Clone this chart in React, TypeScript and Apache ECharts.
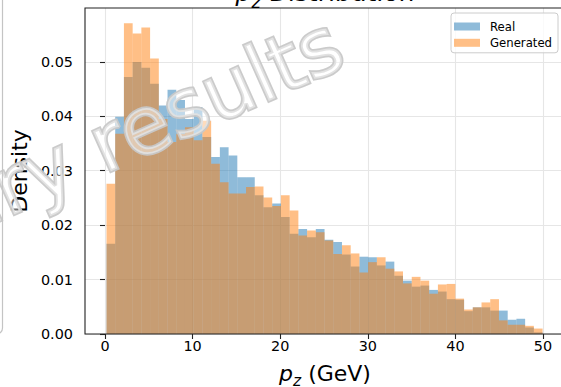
import React, { useEffect, useRef } from 'react';
import * as echarts from 'echarts';

// Histogram bins (GeV): 50 equal-width bins
const binStart = 0.17;
const binWidth = 0.9956;

const realDensity = [
  0.0166, 0.0399, 0.0472, 0.0500, 0.0489, 0.0460, 0.0420, 0.0449, 0.0430, 0.0395,
  0.0417, 0.0362, 0.0325, 0.0343, 0.0328, 0.0288, 0.0288, 0.0255, 0.0233, 0.0240,
  0.0215, 0.0184, 0.0193, 0.0178, 0.0193, 0.0173, 0.0169, 0.0146, 0.0124, 0.0142,
  0.0141, 0.0126, 0.0133, 0.0107, 0.0098, 0.0087, 0.0089, 0.0081, 0.0078, 0.0064,
  0.0063, 0.0042, 0.0049, 0.0049, 0.0043, 0.0043, 0.0026, 0.0028, 0.0012, 0.0003,
];

const generatedDensity = [
  0.0276, 0.0368, 0.0571, 0.0552, 0.0563, 0.0506, 0.0395, 0.0353, 0.0368, 0.0380,
  0.0356, 0.0392, 0.0313, 0.0279, 0.0258, 0.0258, 0.0270, 0.0271, 0.0251, 0.0235,
  0.0255, 0.0227, 0.0181, 0.0190, 0.0187, 0.0172, 0.0147, 0.0163, 0.0148, 0.0113,
  0.0132, 0.0141, 0.0120, 0.0115, 0.0093, 0.0105, 0.0098, 0.0074, 0.0091, 0.0092,
  0.0065, 0.0045, 0.0049, 0.0058, 0.0064, 0.0025, 0.0017, 0.0017, 0.0015, 0.0010,
];

const xTicks = [0, 10, 20, 30, 40, 50];
const yTicks = [0, 0.01, 0.02, 0.03, 0.04, 0.05];
const seriesNames = ['Real', 'Generated'];

const FONT = 'DejaVu Sans';
const BLUE = 'rgba(31,119,180,0.5)';
const ORANGE = 'rgba(255,127,14,0.5)';

export default function App() {
  const ref = useRef<HTMLDivElement>(null);

  useEffect(() => {
    if (!ref.current) return;
    const chart = echarts.init(ref.current, null, { renderer: 'svg' });

    const toData = (vals: number[]) =>
      vals.map((v, i) => [binStart + i * binWidth, binStart + (i + 1) * binWidth, v]);

    const mkSeries = (name: string, vals: number[], color: string) => ({
      type: 'custom',
      name,
      data: toData(vals),
      encode: { x: [0, 1], y: 2 },
      itemStyle: { color },
      renderItem: (params: any, api: any) => {
        const a = api.coord([api.value(0), api.value(2)]);
        const b = api.coord([api.value(1), 0]);
        return {
          type: 'rect',
          shape: { x: a[0], y: a[1], width: b[0] - a[0], height: b[1] - a[1] },
          style: { fill: color },
        };
      },
    });

    const gridLeft = 85, gridTop = 8, gridW = 480, gridH = 326;

    chart.setOption({
      animation: false,
      textStyle: { fontFamily: FONT },
      grid: {
        left: gridLeft,
        top: gridTop,
        width: gridW,
        height: gridH,
        outerBoundsMode: 'none',
        containLabel: false,
      },
      xAxis: {
        type: 'value',
        min: -2.283,
        max: 52.51,
        splitNumber: 5,
        name: '{p|p}{s|z}{n| (GeV)}',
        nameLocation: 'middle',
        nameGap: 28,
        nameTextStyle: {
          rich: {
            p: { fontFamily: FONT, fontSize: 22, fontStyle: 'italic', color: '#000', lineHeight: 26, verticalAlign: 'top' },
            s: { fontFamily: FONT, fontSize: 15.5, fontStyle: 'italic', color: '#000', lineHeight: 18, verticalAlign: 'top', padding: [11, 0, 0, 0] },
            n: { fontFamily: FONT, fontSize: 22, color: '#000', lineHeight: 26, verticalAlign: 'top' },
          },
        },
        axisLine: { show: false },
        axisTick: { show: true, customValues: xTicks, length: 5, lineStyle: { color: '#222', width: 1.1 } },
        axisLabel: {
          customValues: xTicks,
          formatter: (v: number) => String(v),
          fontFamily: FONT,
          fontSize: 14.4,
          color: '#000',
          margin: 5,
        },
        splitLine: { show: true, lineStyle: { color: '#e6e6e6', width: 1.1 } },
      },
      yAxis: {
        type: 'value',
        min: 0,
        max: 0.0599,
        interval: 0.01,
        name: 'Density',
        nameLocation: 'middle',
        nameGap: 50,
        nameTextStyle: { fontFamily: FONT, fontSize: 22, color: '#000' },
        axisLine: { show: false },
        axisTick: { show: true, customValues: yTicks, length: 5, lineStyle: { color: '#222', width: 1.1 } },
        axisLabel: {
          customValues: yTicks,
          formatter: (v: number) => v.toFixed(2),
          fontFamily: FONT,
          fontSize: 14.4,
          color: '#000',
          margin: 12,
        },
        splitLine: { show: true, lineStyle: { color: '#e6e6e6', width: 1.1 } },
      },
      legend: {
        left: 451,
        top: 13,
        orient: 'vertical',
        itemWidth: 26,
        itemHeight: 8,
        itemGap: 4.3,
        padding: [7.5, 6, 4, 3],
        backgroundColor: 'rgba(255,255,255,0.8)',
        borderColor: '#cccccc',
        borderWidth: 1,
        borderRadius: 3,
        icon: 'rect',
        textStyle: { fontFamily: FONT, fontSize: 11.7, color: '#000', padding: [0, 0, 0, 5] },
        data: [
          { name: seriesNames[0], itemStyle: { color: BLUE } },
          { name: seriesNames[1], itemStyle: { color: ORANGE } },
        ],
      },
      graphic: [
        {
          type: 'rect',
          z: 50,
          silent: true,
          shape: { x: gridLeft, y: gridTop, width: gridW, height: gridH },
          style: { fill: 'none', stroke: '#222', lineWidth: 1.1 },
        },
        {
          type: 'text',
          z: 60,
          silent: true,
          x: 325,
          y: -20,
          style: {
            text: '{p|p}{s|z}{n| Distribution}',
            align: 'center',
            verticalAlign: 'top',
            rich: {
              p: { fontFamily: FONT, fontSize: 25, fontStyle: 'italic', fill: '#000', lineHeight: 30, verticalAlign: 'top' },
              s: { fontFamily: FONT, fontSize: 17.5, fontStyle: 'italic', fill: '#000', lineHeight: 20, verticalAlign: 'top', padding: [13, 0, 0, 0] },
              n: { fontFamily: FONT, fontSize: 25, fill: '#000', lineHeight: 30, verticalAlign: 'top' },
            },
          },
        },
        {
          type: 'text',
          z: 100,
          silent: true,
          x: 338,
          y: 40,
          rotation: (24 * Math.PI) / 180,
          style: {
            text: 'Preliminary results',
            font: `80px "${FONT}"`,
            align: 'right',
            verticalAlign: 'middle',
            fill: 'rgba(255,255,255,0.45)',
            stroke: 'rgba(200,200,200,0.95)',
            lineWidth: 3.5,
          },
        },
        {
          type: 'rect',
          z: 100,
          silent: true,
          shape: { x: -20, y: -20, width: 22.5, height: 354, r: 6 },
          style: { fill: 'none', stroke: '#c4c4c4', lineWidth: 1.2 },
        },
      ],
      series: [
        mkSeries(seriesNames[0], realDensity, BLUE),
        mkSeries(seriesNames[1], generatedDensity, ORANGE),
      ],
    });

    return () => chart.dispose();
  }, []);

  return (
    <div
      ref={ref}
      style={{ position: 'absolute', left: 0, top: 0, width: 561, height: 387, background: '#fff' }}
    />
  );
}
